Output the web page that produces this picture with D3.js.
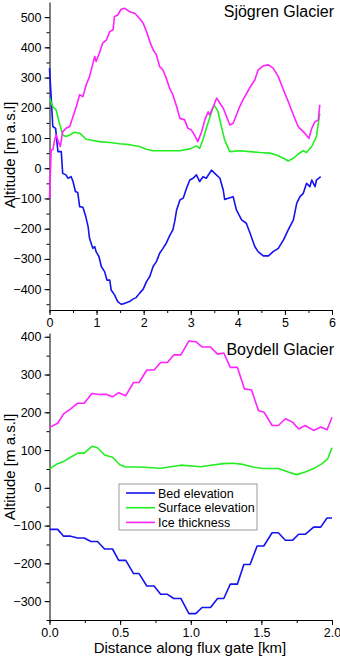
<!DOCTYPE html>
<html>
<head>
<meta charset="utf-8">
<script src="https://cdnjs.cloudflare.com/ajax/libs/d3/7.8.5/d3.min.js"></script>
<style>
  body { margin: 0; background: #fff; }
  svg text { font-family: "Liberation Sans", Arial, sans-serif; fill: #000; }
  .tick line, .domain { stroke: #000; }
</style>
</head>
<body>
<script>
// Sjögren Glacier: [distance km, m]
const sjogrenBed = [[0,331],[0.035,237],[0.07,138],[0.13,132],[0.16,83],[0.18,55],[0.25,55],[0.28,-17],[0.35,-22],[0.39,-33],[0.46,-28],[0.5,-44],[0.55,-77],[0.6,-80],[0.64,-127],[0.71,-129],[0.77,-160],[0.82,-193],[0.85,-232],[0.92,-265],[0.96,-259],[0.99,-276],[1.05,-292],[1.10,-325],[1.17,-342],[1.22,-370],[1.28,-370],[1.31,-403],[1.38,-419],[1.45,-441],[1.52,-450],[1.60,-447],[1.70,-441],[1.77,-433],[1.84,-428],[1.91,-414],[1.99,-400],[2.06,-375],[2.13,-358],[2.20,-325],[2.27,-309],[2.34,-281],[2.41,-265],[2.48,-248],[2.55,-224],[2.62,-204],[2.66,-176],[2.70,-138],[2.77,-105],[2.84,-99],[2.91,-66],[2.98,-39],[3.05,-33],[3.12,-22],[3.19,-44],[3.26,-28],[3.33,-33],[3.44,-6],[3.51,-17],[3.62,-33],[3.69,-72],[3.72,-103],[3.80,-99],[3.90,-94],[3.97,-138],[4.08,-171],[4.18,-182],[4.26,-215],[4.36,-259],[4.43,-276],[4.54,-290],[4.65,-290],[4.75,-276],[4.86,-265],[4.97,-237],[5.07,-204],[5.18,-171],[5.25,-116],[5.32,-94],[5.39,-83],[5.46,-50],[5.53,-61],[5.57,-39],[5.64,-61],[5.67,-39],[5.76,-28]];
const sjogrenSurface = [[0,232],[0.07,204],[0.14,193],[0.21,149],[0.28,110],[0.35,105],[0.43,110],[0.53,119],[0.64,116],[0.78,96],[0.92,92],[1.06,88],[1.28,85],[1.49,81],[1.70,78],[1.91,72],[2.06,63],[2.20,58],[2.41,58],[2.77,58],[2.98,64],[3.12,74],[3.19,66],[3.26,94],[3.33,132],[3.40,165],[3.48,204],[3.51,206],[3.58,187],[3.65,138],[3.72,94],[3.83,55],[4.04,58],[4.26,55],[4.47,52],[4.68,50],[4.82,44],[4.97,33],[5.07,24],[5.18,33],[5.28,47],[5.39,58],[5.46,52],[5.57,72],[5.67,105],[5.74,182]];
const sjogrenThickness = [[0,-99],[0.035,61],[0.07,61],[0.11,94],[0.14,110],[0.2,83],[0.23,72],[0.28,121],[0.35,132],[0.43,138],[0.5,171],[0.57,204],[0.64,243],[0.71,237],[0.78,276],[0.85,303],[0.96,370],[0.99,353],[1.06,381],[1.13,414],[1.21,425],[1.28,452],[1.35,458],[1.38,502],[1.45,507],[1.52,526],[1.60,529],[1.70,518],[1.81,513],[1.91,496],[1.99,480],[2.06,452],[2.13,419],[2.20,392],[2.27,375],[2.34,336],[2.41,325],[2.48,298],[2.55,265],[2.62,243],[2.70,204],[2.77,165],[2.87,160],[2.94,132],[3.01,127],[3.08,110],[3.15,88],[3.23,121],[3.30,160],[3.37,187],[3.40,176],[3.48,204],[3.55,232],[3.62,215],[3.69,199],[3.76,171],[3.83,143],[3.90,149],[3.97,176],[4.04,204],[4.11,226],[4.26,268],[4.36,292],[4.43,325],[4.54,339],[4.65,342],[4.75,331],[4.86,303],[4.97,259],[5.07,221],[5.18,176],[5.28,138],[5.35,127],[5.42,116],[5.51,99],[5.57,132],[5.64,154],[5.71,160],[5.74,210]];

// Boydell Glacier
const boydellBed = [[0,-110],[0.058,-110],[0.10,-128],[0.15,-128],[0.20,-133],[0.246,-133],[0.293,-142],[0.34,-142],[0.39,-162],[0.446,-162],[0.49,-192],[0.54,-192],[0.595,-227],[0.634,-227],[0.689,-260],[0.74,-260],[0.787,-282],[0.835,-282],[0.88,-293],[0.93,-293],[0.987,-333],[1.035,-333],[1.08,-317],[1.14,-317],[1.19,-293],[1.234,-293],[1.28,-255],[1.33,-255],[1.376,-203],[1.42,-203],[1.47,-154],[1.517,-154],[1.576,-119],[1.62,-119],[1.67,-139],[1.72,-139],[1.764,-123],[1.81,-123],[1.87,-104],[1.92,-104],[1.965,-80],[2.0,-80]];
const boydellSurface = [[0,50],[0.058,64],[0.10,70],[0.15,81],[0.20,92],[0.246,92],[0.30,110],[0.34,106],[0.39,87],[0.446,81],[0.498,61],[0.54,55],[0.64,55],[0.787,52],[0.86,56],[0.93,60],[1.07,56],[1.13,59],[1.23,64],[1.30,65],[1.37,62],[1.44,55],[1.51,51],[1.62,51],[1.69,42],[1.75,35],[1.81,42],[1.87,51],[1.93,64],[1.97,77],[2.0,106]];
const boydellThickness = [[0,160],[0.058,171],[0.10,196],[0.15,209],[0.20,224],[0.246,224],[0.30,250],[0.35,247],[0.40,248],[0.446,241],[0.49,252],[0.54,244],[0.595,279],[0.634,279],[0.689,312],[0.74,312],[0.787,332],[0.835,332],[0.88,352],[0.93,352],[0.987,389],[1.035,387],[1.08,373],[1.14,373],[1.19,354],[1.234,357],[1.28,319],[1.33,319],[1.38,262],[1.43,259],[1.48,204],[1.52,200],[1.576,165],[1.62,165],[1.67,183],[1.72,174],[1.764,156],[1.81,165],[1.87,152],[1.92,161],[1.965,154],[2.0,187]];

const seriesNames = ["Bed elevation", "Surface elevation", "Ice thickness"];
const colors = ["#1414f0", "#22ee22", "#ff22ff"];

const w = 340, h = 660;
const left = 49.5, right = 332;

const svg = d3.select("body").append("svg")
  .attr("width", w)
  .attr("height", h);

function panel(cfg) {
  const x = d3.scaleLinear().domain(cfg.xDomain).range([left, right]);
  const y = d3.scaleLinear().domain(cfg.yDomain).range([cfg.bottom, cfg.top]);
  const g = svg.append("g");

  // minor ticks
  g.append("g")
    .attr("transform", "translate(0," + cfg.bottom + ")")
    .call(d3.axisBottom(x).tickValues(d3.range(cfg.xDomain[0], cfg.xDomain[1] + 1e-9, cfg.xMinor)).tickSize(3).tickSizeOuter(0).tickFormat(""))
    .call(a => a.select(".domain").remove());
  g.append("g")
    .attr("transform", "translate(" + left + ",0)")
    .call(d3.axisLeft(y).tickValues(d3.range(cfg.yMinorStart, cfg.yDomain[1], 50)).tickSize(3).tickSizeOuter(0).tickFormat(""))
    .call(a => a.select(".domain").remove());

  g.append("g")
    .attr("transform", "translate(0," + cfg.bottom + ")")
    .call(d3.axisBottom(x).tickValues(d3.range(cfg.xDomain[0], cfg.xDomain[1] + 1e-9, cfg.xMajor)).tickSize(5).tickSizeOuter(0).tickFormat(cfg.xFormat))
    .call(a => a.selectAll("text").style("font-size", "12.5px"));
  g.append("g")
    .attr("transform", "translate(" + left + ",0)")
    .call(d3.axisLeft(y).tickValues(cfg.yTicks).tickSize(5).tickSizeOuter(0))
    .call(a => a.selectAll("text").style("font-size", "12.5px"));

  const line = d3.line().x(d => x(d[0])).y(d => y(d[1]));
  cfg.series.forEach((s, i) => {
    g.append("path")
      .datum(s)
      .attr("fill", "none")
      .attr("stroke", colors[i])
      .attr("stroke-width", 1.6)
      .attr("stroke-linejoin", "round")
      .attr("d", line);
  });

  g.append("text")
    .attr("x", 334).attr("y", cfg.titleY)
    .attr("text-anchor", "end")
    .style("font-size", "16px")
    .text(cfg.title);

  g.append("text")
    .attr("transform", "translate(15," + cfg.labelY + ") rotate(-90)")
    .attr("text-anchor", "middle")
    .style("font-size", "15px")
    .text("Altitude [m a.s.l]");
  return { x, y };
}

panel({
  xDomain: [0, 6], yDomain: [-469, 550], top: 2, bottom: 310,
  xMajor: 1, xMinor: 0.5, xFormat: d3.format("d"),
  yTicks: d3.range(-400, 501, 100), yMinorStart: -450,
  series: [sjogrenBed, sjogrenSurface, sjogrenThickness],
  title: "Sjögren Glacier", titleY: 17, labelY: 155
});

panel({
  xDomain: [0, 2], yDomain: [-350, 410], top: 333, bottom: 620,
  xMajor: 0.5, xMinor: 0.25, xFormat: d3.format(".1f"),
  yTicks: d3.range(-300, 401, 100), yMinorStart: -350,
  series: [boydellBed, boydellSurface, boydellThickness],
  title: "Boydell Glacier", titleY: 355, labelY: 467
});

svg.append("text")
  .attr("x", 190).attr("y", 653)
  .attr("text-anchor", "middle")
  .style("font-size", "15px")
  .text("Distance along flux gate [km]");

// legend
const legend = svg.append("g").attr("transform", "translate(119,484)");
legend.append("rect")
  .attr("width", 138).attr("height", 46)
  .attr("fill", "#fff").attr("stroke", "#999").attr("stroke-width", 1);
seriesNames.forEach((n, i) => {
  legend.append("line")
    .attr("x1", 7).attr("x2", 36)
    .attr("y1", 9 + i * 14.7).attr("y2", 9 + i * 14.7)
    .attr("stroke", colors[i]).attr("stroke-width", 1.6);
  legend.append("text")
    .attr("x", 39).attr("y", 13.5 + i * 14.7)
    .style("font-size", "12.5px")
    .text(n);
});
</script>
</body>
</html>
